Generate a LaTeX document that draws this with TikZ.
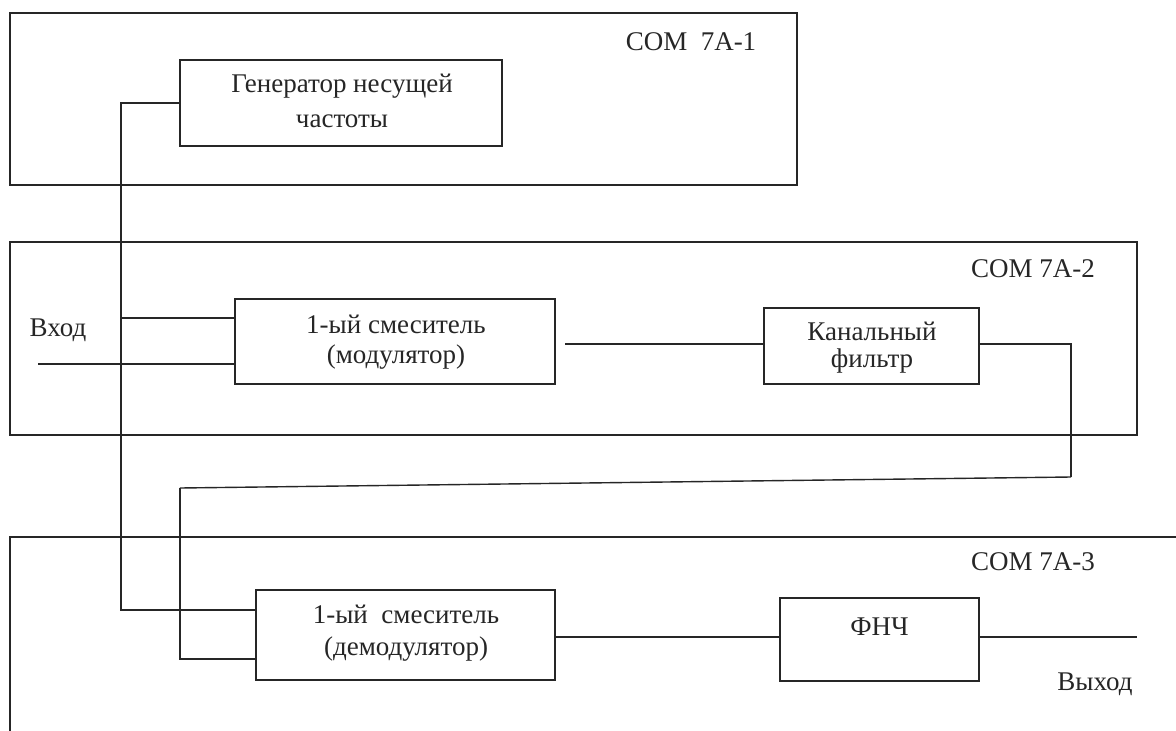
\documentclass[tikz,border=0pt]{standalone}
\usepackage{fontspec}
\setmainfont{Liberation Serif}
\newcommand{\bodyfont}{\fontsize{27}{30}\selectfont}
\definecolor{ink}{gray}{0.15}
\begin{document}
\begin{tikzpicture}[x=1pt,y=-1pt]
\tikzset{
  frame/.style={draw=ink, line width=1.4pt},
  blk/.style={draw=ink, line width=1.4pt, inner sep=0pt},
  wire/.style={draw=ink, line width=1.4pt, line join=miter},
  lbl/.style={font=\bodyfont, inner sep=0pt, text=ink, anchor=base, align=center}
}
\useasboundingbox[fill=white] (0,0) rectangle (1176,731);

% unit COM 7A-1
\draw[frame] (10,13) rectangle (797,185);
\node[lbl] (c1) at (691,50) {COM\ \ 7A-1};
\node[blk, minimum width=322, minimum height=86] (gen) at (341,103) {};
% multi-line labels are placed by the baseline of their last line
\node[lbl] (gent) at (342,127) {Генератор несущей\\[5pt]частоты};

% unit COM 7A-2
\draw[frame] (10,242) rectangle (1137,435);
\node[lbl] (c2) at (1033,277) {COM 7A-2};
\node[blk, minimum width=320, minimum height=85] (mix) at (395,341.5) {};
\node[lbl] (mixt) at (396,363) {1-ый смеситель\\(модулятор)};
\node[blk, minimum width=215, minimum height=76] (flt) at (871.5,346) {};
\node[lbl] (fltt) at (872,367) {Канальный\\[-3pt]фильтр};
\node[lbl] (vin) at (58,336) {Вход};

% unit COM 7A-3 (continues past the page edge)
\draw[frame] (10,731) -- (10,537) -- (1176,537);
\node[lbl] (c3) at (1033,570) {COM 7A-3};
\node[blk, minimum width=299, minimum height=90] (dem) at (405.5,635) {};
\node[lbl] (demt) at (406,655) {1-ый\ \ смеситель\\[2pt](демодулятор)};
\node[blk, minimum width=199, minimum height=83] (lpf) at (879.5,639.5) {};
\node[lbl] (lpft) at (879.5,635) {ФНЧ};
\node[lbl] (vout) at (1095,690) {Выход};

% carrier bus
\coordinate (t1) at (121,103);
\coordinate (t2) at (121,610);
\coordinate (t3) at (121,318);
\draw[wire] (gen.west |- t1) -- (t1) -- (t2) -- (t2 -| dem.west);
\draw[wire] (t3) -- (t3 -| mix.west);

% signal input
\coordinate (in) at (38,364);
\draw[wire] (in) -- (in -| mix.west);

% modulator to channel filter
\coordinate (m1) at (565,344);
\draw[wire] (m1) -- (m1 -| flt.west);

% channel filter to demodulator
\coordinate (f1) at (1071,344);
\coordinate (f2) at (1071,477);
\coordinate (f3) at (180,488);
\coordinate (f4) at (180,659);
\draw[wire] (f1 -| flt.east) -- (f1) -- (f2);
\draw[wire] (f2) -- (f3);
\draw[wire] (f3) -- (f4) -- (f4 -| dem.west);

% demodulator to low-pass filter and output
\coordinate (d1) at (555,637);
\coordinate (out) at (1137,637);
\draw[wire] (d1 -| dem.east) -- (d1 -| lpf.west);
\draw[wire] (d1 -| lpf.east) -- (out);
\end{tikzpicture}
\end{document}
